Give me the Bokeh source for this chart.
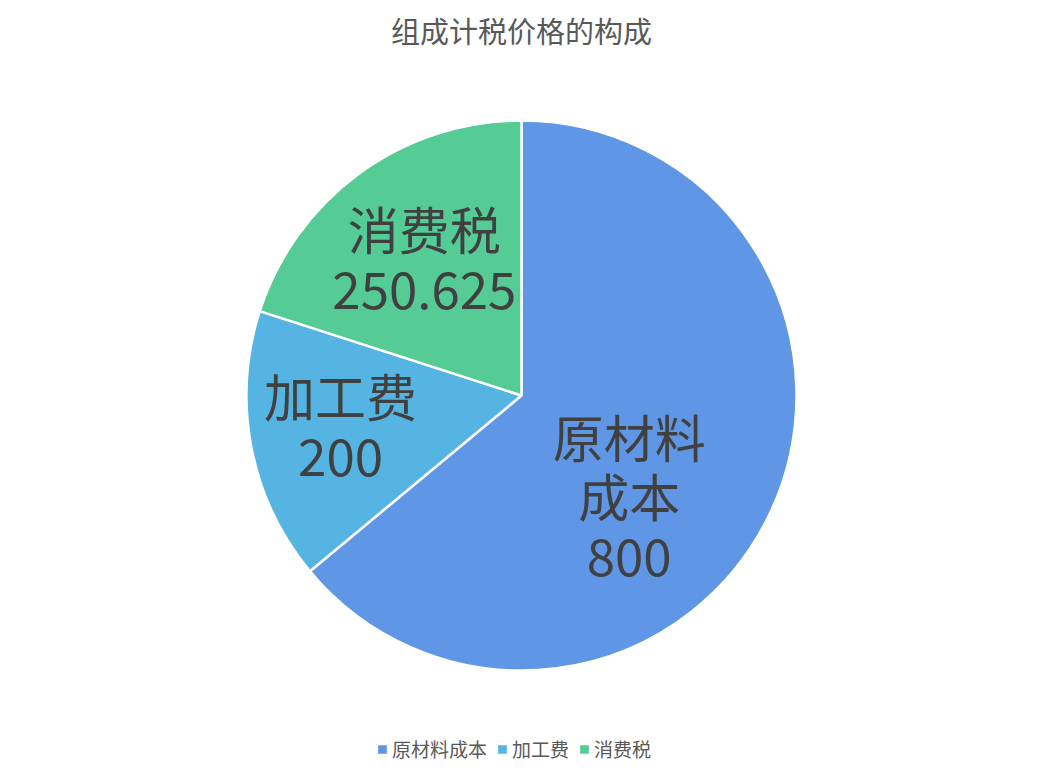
import math
from bokeh.plotting import figure
from bokeh.models import ColumnDataSource, Range1d, Legend, LegendItem
from bokeh.core.properties import value
from bokeh.embed import file_html
from bokeh.resources import INLINE

title_text = "组成计税价格的构成"
categories = ["原材料成本", "加工费", "消费税"]
label_texts = ["原材料\n成本\n800", "加工费\n200", "消费税\n250.625"]
values = [800, 200, 250.625]
colors = ["#5F96E5", "#55B4E2", "#55CB95"]

W, H = 1026, 766
FONT = "Noto Sans CJK SC"

# pie geometry (data units == screen pixels, y measured upward from bottom)
cx, cy, r = 521, 782 - 395, 275

total = sum(values)
starts, ends, mids = [], [], []
acc = 0.0
for v in values:
    a0 = math.pi / 2 - 2 * math.pi * acc / total
    acc += v
    a1 = math.pi / 2 - 2 * math.pi * acc / total
    starts.append(a0)
    ends.append(a1)
    mids.append((a0 + a1) / 2)

# label placement: radius fraction, angle tweak and vertical nudge per slice
lab_r = [0.55, 0.67, 0.60]
lab_da = [-0.34, 0.0, 0.0]
lab_dy = [7, 6, 5]
lx = [cx + r * f * math.cos(m + d) for f, m, d in zip(lab_r, mids, lab_da)]
ly = [cy + r * f * math.sin(m + d) + e for f, m, d, e in zip(lab_r, mids, lab_da, lab_dy)]

src = ColumnDataSource(dict(cat=categories, start=starts, end=ends, color=colors,
                            x=[cx] * 3, y=[cy] * 3, lx=lx, ly=ly, lab=label_texts))

p = figure(width=W, height=H, output_backend="svg", toolbar_location=None,
           x_range=Range1d(0, W), y_range=Range1d(782 - H, 782),
           min_border=0)
p.axis.visible = False
p.grid.visible = False
p.outline_line_color = None
p.background_fill_color = "white"
p.border_fill_color = "white"

wr = p.wedge(x="x", y="y", radius=r, start_angle="start", end_angle="end",
             direction="clock", fill_color="color", line_color="white",
             line_width=2.5, source=src)

p.text(x="lx", y="ly", text="lab", source=src, text_align="center",
       text_baseline="middle", text_font=value(FONT), text_font_size="51px",
       text_color="#404040", text_line_height=0.8)

p.text(x=[cx], y=[782 - 29], text=[title_text], text_align="center",
       text_baseline="middle", text_font=value(FONT), text_font_size="29px",
       text_color="#595959")

legend = Legend(items=[LegendItem(label=c, renderers=[wr], index=i)
                       for i, c in enumerate(categories)],
                orientation="horizontal", location="bottom_center",
                label_text_font=FONT, label_text_font_size="19px",
                label_text_color="#595959", glyph_width=14, glyph_height=14,
                label_standoff=3, spacing=8, padding=0, margin=4,
                border_line_color=None, background_fill_alpha=0)
p.add_layout(legend, "center")

open("out.html", "w").write(file_html(p, INLINE))
